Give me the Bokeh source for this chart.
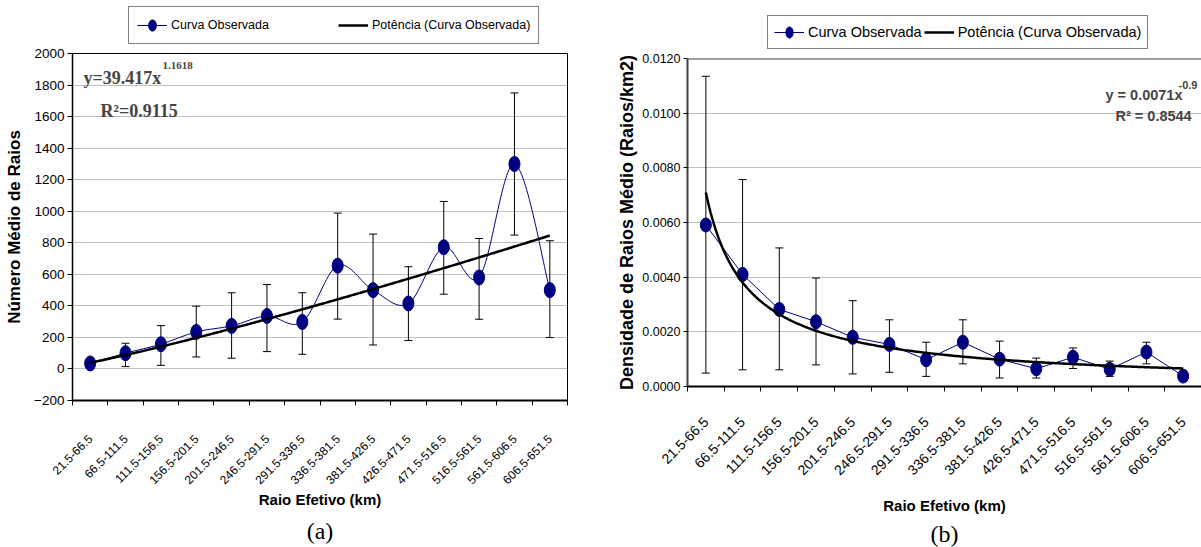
import numpy as np
from bokeh.plotting import figure
from bokeh.layouts import row, column
from bokeh.models import (ColumnDataSource, FixedTicker, Whisker, TeeHead, Legend, LegendItem,
                          Label, Span, NumeralTickFormatter, Title)
from bokeh.embed import file_html
from bokeh.resources import INLINE

# ---------------- data ----------------
categories = ["21.5-66.5", "66.5-111.5", "111.5-156.5", "156.5-201.5", "201.5-246.5",
              "246.5-291.5", "291.5-336.5", "336.5-381.5", "381.5-426.5", "426.5-471.5",
              "471.5-516.5", "516.5-561.5", "561.5-606.5", "606.5-651.5"]

# (a) Número Médio de Raios
count_mean = [35, 100, 157, 235, 273, 336, 298, 655, 500, 415, 772, 580, 1300, 500]
count_upper = [60, 163, 275, 398, 483, 535, 483, 988, 855, 648, 1062, 827, 1750, 813]
count_lower = [12, 15, 23, 76, 68, 110, 93, 316, 152, 180, 474, 315, 849, 199]
fit_a_coef = 39.417
fit_a_exp = 1.1618
fit_a_r2 = "0.9115"
yticks_a = [-200, 0, 200, 400, 600, 800, 1000, 1200, 1400, 1600, 1800, 2000]

# (b) Densidade de Raios Médio
dens_mean = [0.00591, 0.00410, 0.00282, 0.00237, 0.00180, 0.00154, 0.00098,
             0.00162, 0.00100, 0.00065, 0.00107, 0.00063, 0.00126, 0.00038]
dens_upper = [0.01135, 0.00757, 0.00507, 0.00397, 0.00314, 0.00244, 0.00162,
              0.00244, 0.00166, 0.00104, 0.00141, 0.00093, 0.00162, 0.00045]
dens_lower = [0.00049, 0.00061, 0.00061, 0.00079, 0.00046, 0.00052, 0.00037,
              0.00083, 0.00031, 0.00031, 0.00066, 0.00037, 0.00083, 0.00032]
fit_b_coef = 0.0071
fit_b_exp = -0.9
fit_b_r2 = "0.8544"
yticks_b = [0.0, 0.002, 0.004, 0.006, 0.008, 0.010, 0.012]

legend_labels = ["Curva Observada", "Potência (Curva Observada)"]

NAVY = "#000080"
SANS = "Liberation Sans"
SERIF = "Liberation Serif"

xs = list(range(1, len(categories) + 1))
label_map = {i: c for i, c in zip(xs, categories)}
bounds = [i + 0.5 for i in range(0, len(categories) + 1)]


def smooth_segments(xv, yv):
    n = len(xv)
    d = dict(x0=[], y0=[], x1=[], y1=[], cx0=[], cy0=[], cx1=[], cy1=[])
    for i in range(n - 1):
        i0 = max(i - 1, 0)
        i3 = min(i + 2, n - 1)
        d["x0"].append(xv[i]); d["y0"].append(yv[i])
        d["x1"].append(xv[i + 1]); d["y1"].append(yv[i + 1])
        d["cx0"].append(xv[i] + (xv[i + 1] - xv[i0]) / 6.0)
        d["cy0"].append(yv[i] + (yv[i + 1] - yv[i0]) / 6.0)
        d["cx1"].append(xv[i + 1] - (xv[i3] - xv[i]) / 6.0)
        d["cy1"].append(yv[i + 1] - (yv[i3] - yv[i]) / 6.0)
    return d


def style_xaxis(p, size, standoff, title_standoff):
    ax = p.xaxis[0]
    ax.ticker = FixedTicker(ticks=xs, minor_ticks=bounds)
    ax.major_label_overrides = label_map
    ax.major_label_orientation = np.pi / 4
    ax.major_tick_line_color = None
    ax.major_tick_out = 0
    ax.major_tick_in = 0
    ax.minor_tick_line_color = "black"
    ax.minor_tick_out = 5
    ax.minor_tick_in = 0
    ax.major_label_text_font = SANS
    ax.major_label_text_font_size = size
    ax.major_label_text_color = "black"
    ax.major_label_standoff = standoff
    ax.axis_label = "Raio Efetivo (km)"
    ax.axis_label_text_font = SANS
    ax.axis_label_text_font_style = "bold"
    ax.axis_label_text_font_size = "15px"
    ax.axis_label_text_color = "black"
    ax.axis_label_standoff = title_standoff
    ax.axis_line_color = "black"
    ax.axis_line_width = 2


def legend_figure(width, height, left, right, marker_h, loc, pad, spacing, font_size):
    lf = figure(width=width, height=height, x_range=(0, 1), y_range=(0, 1),
                x_axis_type=None, y_axis_type=None, output_backend="svg", toolbar_location=None,
                min_border_left=left, min_border_right=right, min_border_top=0, min_border_bottom=0)
    lf.outline_line_color = None
    lf.background_fill_color = "white"
    lf.border_fill_color = "white"
    # legend swatches (kept outside the visible range)
    r_line = lf.line(x=[-3, -2], y=[-3, -3], line_color=NAVY, line_width=1)
    r_mark = lf.ellipse(x=[-3], y=[-3], width=9, height=marker_h, width_units="screen",
                        height_units="screen", fill_color=NAVY, line_color=NAVY)
    r_trend = lf.line(x=[-3, -2], y=[-3, -3], line_color="black", line_width=2.5)
    leg = Legend(items=[LegendItem(label=legend_labels[0], renderers=[r_line, r_mark]),
                        LegendItem(label=legend_labels[1], renderers=[r_trend])],
                 orientation="horizontal", location=loc, padding=pad, spacing=spacing,
                 glyph_width=30, glyph_height=14, label_height=20, label_standoff=4, margin=0,
                 border_line_color="black", border_line_width=1,
                 label_text_font=SANS, label_text_font_size=font_size, label_text_color="black")
    lf.add_layout(leg)
    return lf


# ---------------- chart (a) ----------------
la = legend_figure(600, 45, 72, 33, 13, (56, 1), 8, 69, "12.5px")

pa = figure(width=600, height=502, x_range=(0.5, 14.5), y_range=(-200, 2000),
            output_backend="svg", toolbar_location=None,
            min_border_left=72, min_border_right=33, min_border_top=8, min_border_bottom=147)
pa.background_fill_color = "white"
pa.border_fill_color = "white"
pa.outline_line_color = "black"
pa.outline_line_width = 1
pa.xgrid.visible = False
tk_a = FixedTicker(ticks=yticks_a)
pa.yaxis[0].ticker = tk_a
pa.ygrid[0].ticker = tk_a
pa.ygrid.grid_line_color = "#c0c0c0"
ya = pa.yaxis[0]
ya.major_tick_out = 5
ya.major_tick_in = 0
ya.minor_tick_line_color = None
ya.major_label_text_font = SANS
ya.major_label_text_font_size = "13.5px"
ya.major_label_text_color = "black"
ya.major_label_standoff = 3
ya.axis_line_color = "black"
ya.axis_line_width = 1.5
ya.axis_label = "Número Médio de Raios"
ya.axis_label_text_font = SANS
ya.axis_label_text_font_style = "bold"
ya.axis_label_text_font_size = "17px"
ya.axis_label_text_color = "black"
ya.axis_label_standoff = 7
style_xaxis(pa, "12px", 31, 0)

src_a = ColumnDataSource(dict(x=xs, y=count_mean, upper=count_upper, lower=count_lower))
wa = Whisker(source=src_a, base="x", upper="upper", lower="lower", level="underlay",
             line_color="black", line_width=1,
             upper_head=TeeHead(size=8, line_color="black", line_width=1),
             lower_head=TeeHead(size=8, line_color="black", line_width=1))
pa.add_layout(wa)

pa.bezier(x0="x0", y0="y0", x1="x1", y1="y1", cx0="cx0", cy0="cy0", cx1="cx1", cy1="cy1",
          source=ColumnDataSource(smooth_segments(xs, count_mean)),
          line_color=NAVY, line_width=1)
pa.ellipse(x="x", y="y", width=11, height=15, width_units="screen", height_units="screen",
           fill_color=NAVY, line_color=NAVY, source=src_a)
tx_a = np.linspace(1, 14, 300)
pa.line(tx_a, fit_a_coef * tx_a ** fit_a_exp, line_color="black", line_width=2.5)

pa.add_layout(Label(x=11, y=323, x_units="screen", y_units="screen", text=f"y={fit_a_coef}x",
                    text_font=SERIF, text_font_style="bold", text_font_size="18px",
                    text_align="left", text_baseline="alphabetic"))
pa.add_layout(Label(x=90, y=335, x_units="screen", y_units="screen", text=f"{fit_a_exp}",
                    text_font=SERIF, text_font_style="bold", text_font_size="11px",
                    text_align="left", text_baseline="alphabetic"))
pa.add_layout(Label(x=28, y=290, x_units="screen", y_units="screen", text="R\u00b2=" + fit_a_r2,
                    text_font=SERIF, text_font_style="bold", text_font_size="18px",
                    text_align="left", text_baseline="alphabetic"))
pa.add_layout(Title(text="(a)", align="center", text_font=SERIF, text_font_size="24px",
                    text_font_style="normal", text_color="black", standoff=8), "below")

# ---------------- chart (b) ----------------
lb = legend_figure(601, 50, 87, 0, 14, (80, 1), 6, 2, "14.5px")

pb = figure(width=601, height=497, x_range=(0.5, 14.5), y_range=(0, 0.012),
            output_backend="svg", toolbar_location=None,
            min_border_left=87, min_border_right=0, min_border_top=8, min_border_bottom=161)
pb.background_fill_color = "white"
pb.border_fill_color = "white"
pb.outline_line_color = None
pb.xgrid.visible = False
tk_b = FixedTicker(ticks=yticks_b)
pb.yaxis[0].ticker = tk_b
pb.ygrid[0].ticker = tk_b
pb.ygrid.grid_line_color = "#c0c0c0"
yb = pb.yaxis[0]
yb.formatter = NumeralTickFormatter(format="0.0000")
yb.major_tick_out = 4
yb.major_tick_in = 0
yb.minor_tick_line_color = None
yb.major_label_text_font = SANS
yb.major_label_text_font_size = "12.5px"
yb.major_label_text_color = "black"
yb.major_label_standoff = 3
yb.axis_line_color = "#404040"
yb.axis_line_width = 2
yb.axis_label = "Densidade de Raios Médio (Raios/km2)"
yb.axis_label_text_font = SANS
yb.axis_label_text_font_style = "bold"
yb.axis_label_text_font_size = "18px"
yb.axis_label_text_color = "black"
yb.axis_label_standoff = 2
style_xaxis(pb, "14px", 28, 15)
pb.add_layout(Span(location=yticks_b[-1], dimension="width", line_color="#404040", line_width=2))

src_b = ColumnDataSource(dict(x=xs, y=dens_mean, upper=dens_upper, lower=dens_lower))
wb = Whisker(source=src_b, base="x", upper="upper", lower="lower", level="underlay",
             line_color="black", line_width=1,
             upper_head=TeeHead(size=8, line_color="black", line_width=1),
             lower_head=TeeHead(size=8, line_color="black", line_width=1))
pb.add_layout(wb)
pb.line(x="x", y="y", source=src_b, line_color=NAVY, line_width=1)
pb.ellipse(x="x", y="y", width=11, height=14, width_units="screen", height_units="screen",
           fill_color=NAVY, line_color=NAVY, source=src_b)
tx_b = np.linspace(1, 14, 300)
pb.line(tx_b, fit_b_coef * tx_b ** fit_b_exp, line_color="black", line_width=2.5)

pb.add_layout(Label(x=418, y=292, x_units="screen", y_units="screen", text=f"y = {fit_b_coef}x",
                    text_font=SANS, text_font_style="bold", text_font_size="14.5px",
                    text_align="left", text_baseline="alphabetic"))
pb.add_layout(Label(x=491, y=302, x_units="screen", y_units="screen", text=f"{fit_b_exp}",
                    text_font=SANS, text_font_style="bold", text_font_size="11px",
                    text_align="left", text_baseline="alphabetic"))
pb.add_layout(Label(x=428, y=271, x_units="screen", y_units="screen", text="R\u00b2 = " + fit_b_r2,
                    text_font=SANS, text_font_style="bold", text_font_size="14.5px",
                    text_align="left", text_baseline="alphabetic"))
pb.add_layout(Title(text="(b)", align="center", text_font=SERIF, text_font_size="24px",
                    text_font_style="normal", text_color="black", standoff=2), "below")

layout = row(column(la, pa), column(lb, pb))
open("out.html", "w").write(file_html(layout, INLINE))
